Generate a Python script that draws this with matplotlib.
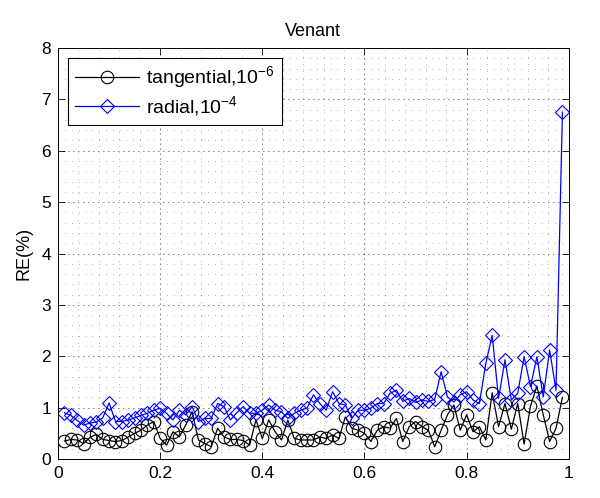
import numpy as np
import matplotlib
matplotlib.use('Agg')
import matplotlib.pyplot as plt
from matplotlib.ticker import MultipleLocator

plt.rcParams['font.family'] = ['Liberation Sans', 'DejaVu Sans']
plt.rcParams['mathtext.default'] = 'regular'

# data (79 points, x = k/80)
x = np.arange(1, 80) / 80.0

tangential = [0.35, 0.38, 0.37, 0.30, 0.42, 0.48, 0.38, 0.36, 0.34, 0.36, 0.43, 0.50,
              0.56, 0.66, 0.73, 0.40, 0.27, 0.53, 0.43, 0.66, 0.92, 0.37, 0.30, 0.24,
              0.60, 0.43, 0.38, 0.38, 0.36, 0.27, 0.76, 0.40, 0.76, 0.53, 0.37, 0.76,
              0.40, 0.37, 0.37, 0.37, 0.43, 0.40, 0.47, 0.40, 0.82, 0.60, 0.56, 0.50,
              0.34, 0.56, 0.63, 0.60, 0.79, 0.34, 0.63, 0.73, 0.63, 0.56, 0.24, 0.56,
              0.86, 1.05, 0.56, 0.86, 0.53, 0.63, 0.37, 1.29, 0.63, 1.08, 0.58, 1.08,
              0.29, 1.03, 1.42, 0.86, 0.34, 0.60, 1.20]

radial = [0.90, 0.85, 0.75, 0.66, 0.70, 0.72, 0.80, 1.09, 0.73, 0.73, 0.76, 0.80,
          0.85, 0.89, 0.95, 0.99, 0.89, 0.76, 0.95, 0.86, 1.02, 0.73, 0.79, 0.79,
          1.08, 1.02, 0.76, 0.90, 1.02, 0.89, 0.89, 0.95, 1.05, 0.95, 0.92, 0.79,
          0.89, 0.95, 0.99, 1.25, 1.08, 0.95, 1.31, 1.08, 1.05, 0.79, 0.95, 0.95,
          0.99, 1.08, 1.08, 1.28, 1.34, 1.12, 1.18, 1.10, 1.15, 1.12, 1.16, 1.70,
          1.21, 1.11, 1.25, 1.31, 1.15, 1.08, 1.86, 2.41, 1.18, 1.93, 1.15, 1.28,
          1.99, 1.41, 1.99, 1.21, 2.12, 1.34, 6.75]

xticks = [0, 0.2, 0.4, 0.6, 0.8, 1]
xticklabels = ['0', '0.2', '0.4', '0.6', '0.8', '1']
yticks = list(range(9))

fig = plt.figure(figsize=(6.0, 4.98), dpi=100)
ax = fig.add_axes([0.0967, 0.0783, 0.8513, 0.8253])

ax.plot(x, tangential, color='black', linewidth=0.9, marker='o', markersize=9,
        markerfacecolor='none', markeredgewidth=0.8, label='tangential,10$^{-6}$')
ax.plot(x, radial, color='blue', linewidth=0.9, marker='D', markersize=7,
        markerfacecolor='none', markeredgewidth=0.8, label='radial,10$^{-4}$')

ax.set_xlim(0, 1)
ax.set_ylim(0, 8)
ax.set_xticks(xticks)
ax.set_xticklabels(xticklabels)
ax.set_yticks(yticks)
ax.set_yticklabels([str(v) for v in yticks])
ax.xaxis.set_minor_locator(MultipleLocator(0.04))
ax.yaxis.set_minor_locator(MultipleLocator(0.2))

ax.tick_params(which='both', direction='in', top=True, right=True, labelsize=12.5)
ax.tick_params(which='major', length=5, width=0.6, pad=5)
ax.tick_params(which='minor', length=0)

ax.grid(True, which='major', color='black', linestyle=(0, (1, 5)), linewidth=0.6)
ax.grid(True, which='minor', color='#444444', linestyle=(0, (0.8, 9)), linewidth=0.5)
ax.set_axisbelow(True)
for s in ax.spines.values():
    s.set_linewidth(0.7)

ax.set_title('Venant', fontsize=13, pad=9)
ax.set_ylabel('RE(%)', fontsize=13, labelpad=6)

leg = ax.legend(loc='upper left', fontsize=14, fancybox=False, framealpha=1,
                edgecolor='black', handlelength=3.3, handletextpad=0.4,
                borderaxespad=0.5, borderpad=0.35, labelspacing=0.2)
leg.get_frame().set_linewidth(0.8)

plt.savefig('out.png', dpi=100)
